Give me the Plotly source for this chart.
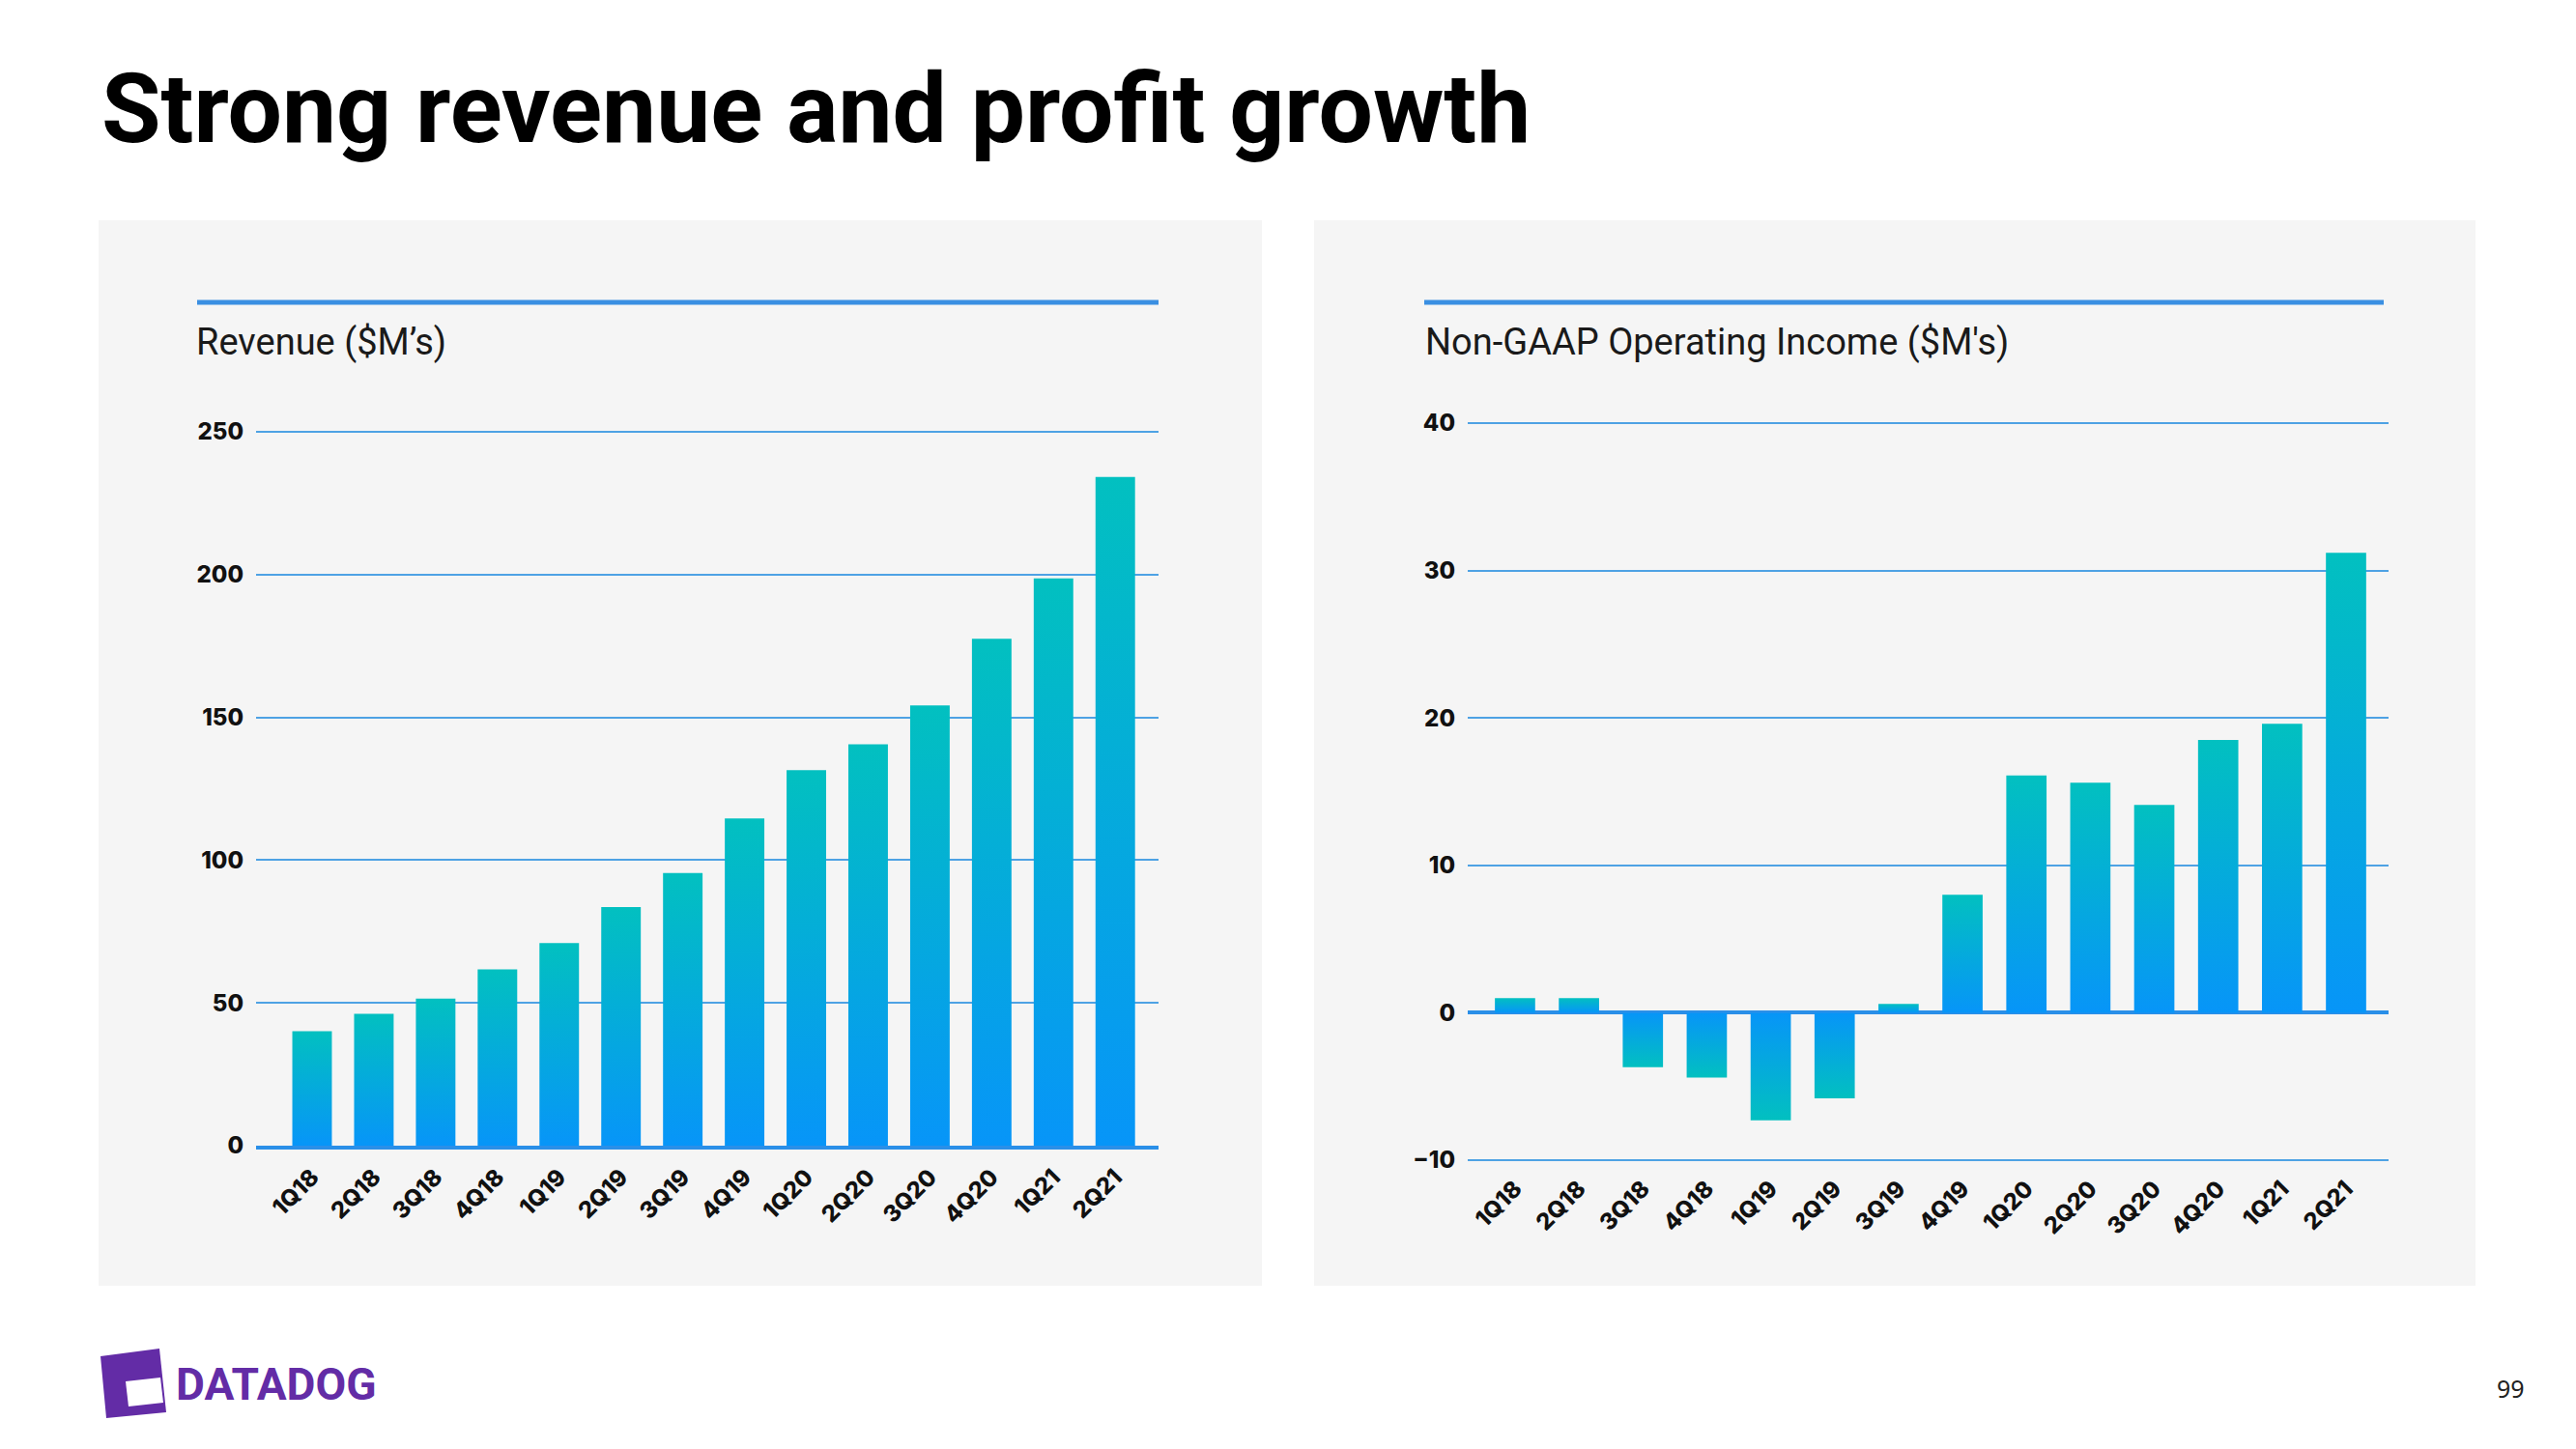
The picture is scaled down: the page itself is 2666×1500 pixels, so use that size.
import plotly.graph_objects as go

# ---------------- data ----------------
quarters = ["1Q18", "2Q18", "3Q18", "4Q18", "1Q19", "2Q19", "3Q19", "4Q19",
            "1Q20", "2Q20", "3Q20", "4Q20", "1Q21", "2Q21"]
revenue = [40.1, 46.2, 51.5, 61.7, 71.0, 83.6, 95.5, 114.6,
           131.5, 140.6, 154.2, 177.5, 198.7, 234.2]
op_income = [1.0, 1.0, -3.7, -4.4, -7.3, -5.8, 0.6, 8.0,
             16.1, 15.6, 14.1, 18.5, 19.6, 31.2]
rev_ticks = [0, 50, 100, 150, 200, 250]
inc_ticks = [-10, 0, 10, 20, 30, 40]

# ---------------- style ----------------
W, H = 2666, 1500
OX, OY = 8, 8          # page body margin compensation
TEAL = "#02c0c0"
BLUE = "#0795f8"
GRID = "#4ea2e4"
AXIS = "#2a8fe8"
PANEL = "#f5f5f5"


def px_x(p):
    return (p - OX) / W


def px_y(p):
    return 1 - (p - OY) / H


fig = go.Figure()


def add_bars(values, xref, yref, half):
    for i, v in enumerate(values):
        if v >= 0:
            cs = [[0, BLUE], [1, TEAL]]
        else:
            cs = [[0, TEAL], [1, BLUE]]
        fig.add_trace(go.Scatter(
            x=[i - half, i + half, i + half, i - half, i - half],
            y=[0, 0, v, v, 0],
            xaxis=xref, yaxis=yref,
            mode="lines", fill="toself",
            line=dict(width=0, color=BLUE),
            fillgradient=dict(type="vertical", colorscale=cs),
            showlegend=False, hoverinfo="skip",
        ))


add_bars(revenue, "x", "y", 0.32)
add_bars(op_income, "x2", "y2", 0.315)

tickfont = dict(family="Inter", size=24, color="#111111", weight=800)
xtickfont = dict(family="Inter", size=24, color="#111111", weight=800)

# left chart geometry (reference pixels)
L_x0, L_x1 = 265, 1199
L_ytop, L_ybot = 442.6, 1186
# right chart geometry
R_x0, R_x1 = 1519, 2472
R_ytop, R_ybot = 434.2, 1204.8

fig.update_layout(
    template="none",
    width=W, height=H,
    margin=dict(l=0, r=0, t=0, b=0, pad=0, autoexpand=False),
    paper_bgcolor="white",
    plot_bgcolor="rgba(0,0,0,0)",
    xaxis=dict(
        domain=[px_x(L_x0), px_x(L_x1)], range=[-0.907, 13.70],
        tickmode="array", tickvals=list(range(len(quarters))), ticktext=quarters,
        tickangle=-45, tickfont=xtickfont, showgrid=False, zeroline=False,
        showline=True, linecolor=AXIS, linewidth=4, ticks="",
        anchor="y", fixedrange=True, automargin=False, ticklabelstandoff=5,
    ),
    yaxis=dict(
        domain=[px_y(L_ybot), px_y(L_ytop)], range=[0, 251.5],
        tickmode="array", tickvals=rev_ticks, tickfont=tickfont,
        showgrid=True, gridcolor=GRID, gridwidth=2, zeroline=False,
        showline=False, ticks="", anchor="x", fixedrange=True,
        ticklabelstandoff=12, automargin=False,
    ),
    xaxis2=dict(
        domain=[px_x(R_x0), px_x(R_x1)], range=[-0.74, 13.665],
        tickmode="array", tickvals=list(range(len(quarters))), ticktext=quarters,
        tickangle=-45, tickfont=xtickfont, showgrid=False, zeroline=False,
        showline=False, ticks="", anchor="y2", fixedrange=True, automargin=False,
        ticklabelstandoff=6,
    ),
    yaxis2=dict(
        domain=[px_y(R_ybot), px_y(R_ytop)], range=[-10.25, 40.25],
        tickmode="array", tickvals=inc_ticks, tickfont=tickfont,
        showgrid=True, gridcolor=GRID, gridwidth=2,
        zeroline=True, zerolinecolor=AXIS, zerolinewidth=4,
        showline=False, ticks="", anchor="x2", fixedrange=True,
        ticklabelstandoff=12, automargin=False,
    ),
)

shapes = []
# panels
for (a, b) in [(102, 1306), (1360, 2562)]:
    shapes.append(dict(type="rect", xref="paper", yref="paper",
                       x0=px_x(a), x1=px_x(b), y0=px_y(1331), y1=px_y(228),
                       fillcolor=PANEL, line=dict(width=0), layer="below"))
# top header lines
for (a, b) in [(204, 1199), (1474, 2467)]:
    shapes.append(dict(type="line", xref="paper", yref="paper",
                       x0=px_x(a), x1=px_x(b), y0=px_y(313), y1=px_y(313),
                       line=dict(color="#3a8fe2", width=5), layer="above"))
# logo icon (simplified)
shapes.append(dict(type="path", xref="paper", yref="paper",
                   path="M {} {} L {} {} L {} {} L {} {} Z".format(
                       px_x(104), px_y(1404), px_x(165), px_y(1396),
                       px_x(172), px_y(1462), px_x(110), px_y(1468)),
                   fillcolor="#632ca6", line=dict(width=0)))
shapes.append(dict(type="path", xref="paper", yref="paper",
                   path="M {} {} L {} {} L {} {} L {} {} Z".format(
                       px_x(130), px_y(1430), px_x(166), px_y(1426),
                       px_x(169), px_y(1452), px_x(133), px_y(1456)),
                   fillcolor="white", line=dict(width=0)))
fig.update_layout(shapes=shapes)

annotations = [
    dict(text="<b>Strong revenue and profit growth</b>", x=px_x(103), y=px_y(112),
         xref="paper", yref="paper", xanchor="left", yanchor="middle",
         showarrow=False, font=dict(family="Roboto", size=100, color="#000000")),
    dict(text="Revenue ($M’s)", x=px_x(201), y=px_y(354),
         xref="paper", yref="paper", xanchor="left", yanchor="middle",
         showarrow=False, font=dict(family="Roboto", size=38, color="#1a1a1a")),
    dict(text="Non-GAAP Operating Income ($M's)", x=px_x(1473), y=px_y(354),
         xref="paper", yref="paper", xanchor="left", yanchor="middle",
         showarrow=False, font=dict(family="Roboto", size=38, color="#1a1a1a")),
    dict(text="<b>DATADOG</b>", x=px_x(180), y=px_y(1433),
         xref="paper", yref="paper", xanchor="left", yanchor="middle",
         showarrow=False, font=dict(family="Roboto", size=46, color="#632ca6")),
    dict(text="99", x=px_x(2598), y=px_y(1437),
         xref="paper", yref="paper", xanchor="center", yanchor="middle",
         showarrow=False, font=dict(family="Noto Sans", size=25, color="#222222")),
]
fig.update_layout(annotations=annotations)

fig.write_html("out.html")
